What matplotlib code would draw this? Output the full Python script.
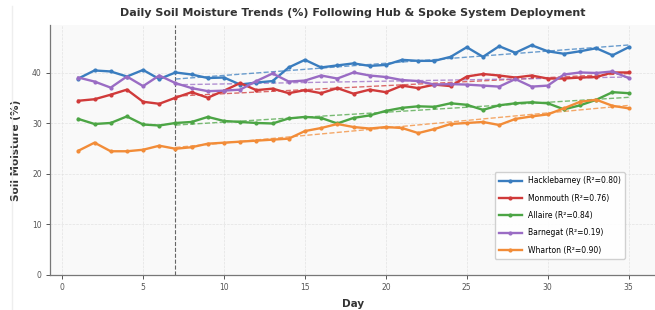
"""
Daily soil moisture per site after the hub & spoke deployment (day 7),
with a linear trend fitted over the post-deployment days.
"""
import numpy as np
import matplotlib

matplotlib.use('Agg')
import matplotlib.pyplot as plt
from matplotlib.lines import Line2D

# --- data ---
days = list(range(1, 36))
deploy_day = 7

sites = ['Hacklebarney', 'Monmouth', 'Allaire', 'Barnegat', 'Wharton']
r2_labels = ['0.80', '0.76', '0.84', '0.19', '0.90']
colors = ['#3a7dbf', '#d03a3a', '#4ca545', '#9a6cc4', '#f28c38']

hacklebarney = [38.9, 40.5, 40.3, 39.3, 40.6, 38.8, 40.1, 39.7, 39.0, 39.1,
                37.7, 38.1, 38.4, 41.1, 42.6, 41.1, 41.5, 41.9, 41.4, 41.6,
                42.6, 42.4, 42.4, 43.2, 45.1, 43.2, 45.3, 44.0, 45.5, 44.3,
                43.8, 44.3, 44.9, 43.5, 45.1]
monmouth = [34.5, 34.8, 35.7, 36.7, 34.3, 33.9, 35.1, 36.2, 35.1, 36.5,
            38.0, 36.6, 36.9, 36.0, 36.6, 36.0, 37.0, 35.9, 36.7, 36.2,
            37.5, 37.0, 37.7, 37.4, 39.3, 39.8, 39.5, 39.1, 39.5, 38.9,
            38.9, 39.1, 39.2, 40.1, 40.1]
allaire = [30.9, 29.9, 30.1, 31.4, 29.8, 29.6, 30.1, 30.3, 31.3, 30.5,
           30.3, 30.1, 30.0, 31.0, 31.3, 31.1, 30.0, 31.1, 31.6, 32.5,
           33.1, 33.4, 33.3, 34.0, 33.7, 32.7, 33.6, 34.0, 34.2, 34.0,
           32.8, 33.6, 34.7, 36.2, 36.0]
barnegat = [39.1, 38.3, 37.1, 39.3, 37.4, 39.5, 38.0, 37.0, 36.4, 36.5,
            36.7, 38.4, 39.9, 38.3, 38.5, 39.5, 38.9, 40.1, 39.5, 39.2,
            38.6, 38.4, 37.7, 37.8, 37.7, 37.5, 37.3, 38.8, 37.3, 37.5,
            39.7, 40.1, 40.0, 40.3, 39.0]
wharton = [24.6, 26.2, 24.5, 24.5, 24.8, 25.6, 25.0, 25.3, 26.0, 26.2,
           26.4, 26.6, 26.8, 27.0, 28.5, 29.1, 29.9, 29.3, 29.0, 29.3,
           29.1, 28.1, 28.9, 29.9, 30.1, 30.3, 29.7, 30.9, 31.4, 31.8,
           33.0, 34.3, 34.7, 33.5, 33.0]

series = [hacklebarney, monmouth, allaire, barnegat, wharton]

fig = plt.figure(figsize=(6.55, 3.10), dpi=100)
fig.patch.set_facecolor('white')
ax = fig.add_axes([50 / 655, 35 / 310, 607 / 655, 250 / 310])
ax.set_facecolor('#f9f9f9')

x = np.array(days)
post = x >= deploy_day
for name, r2, col, vals in zip(sites, r2_labels, colors, series):
    y = np.array(vals)
    ax.plot(x, y, color=col, lw=1.7, marker='o', ms=2.0,
            label='{} (R\u00b2={})'.format(name, r2), zorder=3)
    # linear trend over the post-deployment window
    k, b = np.polyfit(x[post], y[post], 1)
    xt = x[post]
    ax.plot(xt, k * xt + b, color=col, lw=1.0, ls='--', alpha=0.75, zorder=2)

ax.axvline(deploy_day, color='#666666', ls='--', lw=0.8, zorder=1)

ax.set_xlim(-0.75, 36.75)
ax.set_ylim(0, 49.5)
ax.set_xticks([0, 5, 10, 15, 20, 25, 30, 35])
ax.set_yticks([0, 10, 20, 30, 40])
ax.grid(True, ls='--', lw=0.5, color='#dddddd', alpha=0.8)
ax.set_axisbelow(True)

for side in ('top', 'right'):
    ax.spines[side].set_visible(False)
for side in ('left', 'bottom'):
    ax.spines[side].set_color('#777777')
    ax.spines[side].set_linewidth(0.9)
ax.tick_params(colors='#555555', labelsize=5.5, length=3, width=0.7, pad=3)

ax.set_xlabel('Day', fontsize=7.5, fontweight='bold', color='#333333', labelpad=5)
ax.set_ylabel('Soil Moisture (%)', fontsize=7.5, fontweight='bold', color='#333333',
              labelpad=8)
fig.text(0.539, 0.958, 'Daily Soil Moisture Trends (%) Following Hub & Spoke System Deployment',
         ha='center', va='center', fontsize=8, fontweight='bold', color='#333333')

leg = ax.legend(loc='lower right', bbox_to_anchor=(0.947, 0.064), fontsize=5.5,
                labelspacing=1.1, borderaxespad=0, frameon=True, fancybox=True,
                handlelength=3.0, borderpad=0.55)
leg.get_frame().set_facecolor('white')
leg.get_frame().set_edgecolor('#cccccc')
leg.get_frame().set_alpha(0.9)

# faint border line at the left edge of the original render
fig.add_artist(Line2D([12 / 655, 12 / 655], [0.0, 0.98], color='#eeeeee', lw=1,
                      transform=fig.transFigure))

fig.savefig('out.png', dpi=100)
